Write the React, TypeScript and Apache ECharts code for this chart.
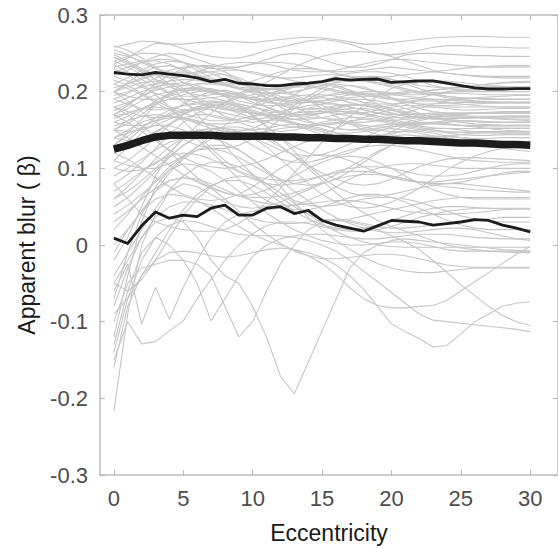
import React, { useEffect, useRef } from "react";
import * as echarts from "echarts";

// Eccentricity values (x)
const eccentricity = [0,1,2,3,4,5,6,7,8,9,10,11,12,13,14,15,16,17,18,19,20,21,22,23,24,25,26,27,28,29,30];
const xTicks = [0, 5, 10, 15, 20, 25, 30];

// Summary lines (apparent blur, beta)
const upperLine = [0.225,0.223,0.222,0.225,0.223,0.221,0.218,0.213,0.216,0.211,0.210,0.208,0.208,0.210,0.211,0.213,0.217,0.215,0.216,0.2165,0.212,0.213,0.214,0.214,0.211,0.208,0.205,0.2035,0.2035,0.204,0.204];
const meanLine = [0.125,0.130,0.136,0.141,0.143,0.143,0.143,0.143,0.142,0.142,0.142,0.142,0.141,0.141,0.140,0.140,0.139,0.139,0.138,0.138,0.137,0.136,0.136,0.135,0.134,0.133,0.133,0.132,0.131,0.131,0.130];
const lowerLine = [0.009,0.002,0.025,0.043,0.035,0.039,0.037,0.048,0.052,0.039,0.039,0.048,0.050,0.041,0.045,0.032,0.026,0.022,0.018,0.025,0.032,0.031,0.030,0.026,0.028,0.030,0.033,0.032,0.026,0.022,0.017];

// Individual observers (values in thousandths of beta)
const bandLines = [
  [258,262,266,265,262,262,264,265,266,265,264,266,268,270,271,270,268,265,262,262,264,266,268,270,271,272,272,272,271,271,271],
  [236,244,255,263,262,256,250,246,244,244,248,254,258,262,266,268,266,262,256,250,248,250,254,258,260,260,259,258,258,257,257],
  [222,228,238,246,250,248,242,236,232,232,236,242,248,250,248,242,236,232,232,236,242,248,250,250,249,248,247,247,246,246,246],
  [248,240,230,222,218,220,226,232,236,238,238,236,232,228,226,226,228,232,236,240,242,242,240,238,236,234,233,232,232,232,232],
  [205,210,216,222,228,232,234,234,232,228,224,220,218,218,220,222,222,220,216,212,210,210,212,214,214,212,210,208,207,206,206],
  [195,200,206,210,214,216,215,212,208,204,200,198,198,200,204,208,210,208,204,200,198,198,200,202,204,206,208,210,212,213,214],
  [185,192,200,206,210,212,208,202,196,192,192,196,202,208,212,212,208,202,196,192,190,190,192,196,200,202,203,204,204,204,204],
  [175,184,194,202,206,208,210,210,208,204,198,192,188,186,186,188,192,196,198,198,196,194,192,190,190,191,192,193,194,195,195],
  [168,172,178,184,190,196,200,202,200,196,190,186,184,186,190,192,190,186,182,180,182,186,190,190,189,188,187,186,186,186,186],
  [160,168,178,186,190,190,186,180,176,176,180,186,190,192,188,182,176,172,172,176,180,182,182,180,178,176,176,177,178,178,178],
  [150,162,176,188,198,204,204,200,194,188,184,182,182,184,186,186,184,180,176,172,170,170,171,172,172,172,172,172,172,172,172],
  [220,214,206,198,192,190,190,192,194,194,192,188,184,180,178,178,180,182,182,180,176,172,168,166,165,165,166,167,168,168,168],
  [235,226,216,206,198,194,194,196,198,198,194,188,182,178,176,178,182,184,182,178,172,168,166,165,165,166,166,165,164,163,162],
  [245,238,228,216,206,200,196,192,188,184,180,176,172,170,170,172,174,174,172,168,164,160,158,158,160,162,162,161,160,160,160],
  [200,206,212,214,210,202,192,184,178,174,172,172,174,178,182,184,184,180,176,172,168,164,160,158,157,156,156,156,156,156,156],
  [190,184,178,176,178,182,186,188,186,182,176,170,166,164,164,166,170,172,170,166,162,158,155,153,152,152,152,152,152,152,152],
  [180,174,168,166,168,174,180,184,184,180,174,168,162,158,156,156,158,162,164,162,158,154,150,148,147,147,148,148,148,148,148],
  [165,172,178,180,178,172,166,162,162,164,168,170,168,164,160,156,152,150,152,156,158,158,154,150,146,144,143,143,144,144,144],
  [155,162,168,170,168,164,160,158,158,160,164,166,164,160,154,150,146,146,148,150,152,150,148,146,142,140,139,139,140,140,140],
  [140,150,160,166,168,166,162,156,152,150,150,152,156,158,156,152,146,142,140,142,146,148,146,142,138,136,135,135,135,135,135],
  [130,142,154,162,166,166,162,156,150,146,146,148,152,154,152,148,142,138,136,138,142,144,142,138,134,131,130,130,130,130,130],
  [255,248,238,230,226,224,224,226,228,228,226,222,218,214,212,212,214,216,218,218,216,212,208,206,205,205,206,206,206,206,206],
  [225,232,238,242,242,238,234,230,230,232,236,238,238,236,232,228,226,226,228,230,232,230,228,226,224,222,220,219,218,218,218],
  [190,198,208,218,224,226,222,216,210,206,204,204,206,208,208,206,202,198,196,196,198,200,198,196,194,192,191,190,190,190,190],
  [170,178,188,196,200,202,202,200,196,192,190,190,192,194,196,196,194,190,186,184,184,186,188,188,186,184,182,181,180,180,180],
  [120,136,152,166,176,182,184,184,180,176,172,170,170,172,174,174,172,168,164,162,162,164,166,166,164,162,161,160,160,160,160],
  [110,128,146,160,170,176,178,176,172,168,164,162,162,164,166,166,164,160,156,154,154,156,158,160,158,156,155,154,154,154,154],
  [200,194,190,190,194,200,204,204,200,194,186,180,174,170,170,172,176,178,178,176,172,168,166,166,168,170,172,173,174,174,174],
  [245,236,226,216,210,208,210,212,212,210,206,200,194,190,188,188,190,192,194,194,192,188,184,182,182,183,184,185,185,185,185],
  [210,218,228,236,240,238,232,224,216,210,206,204,204,206,210,214,216,216,214,210,206,202,200,199,199,200,200,200,200,200,200],
  [180,186,194,204,214,222,226,226,222,214,204,196,190,188,190,194,198,200,198,194,190,186,184,184,185,186,186,186,186,186,186],
  [215,208,198,188,180,176,176,180,186,192,196,198,198,196,194,194,196,198,200,200,198,196,196,197,198,198,197,196,196,196,196],
  [160,156,156,162,172,184,194,200,202,198,190,180,172,168,168,172,178,182,184,182,178,174,170,168,167,166,166,166,166,166,166],
  [140,136,138,146,158,170,178,182,182,178,172,168,166,168,172,176,178,176,172,168,166,166,168,170,170,169,168,168,168,168,168],
  [200,212,224,232,234,230,222,214,208,204,202,202,204,206,206,204,200,196,194,194,196,198,200,202,204,206,208,210,211,212,212],
  [232,236,240,240,236,228,220,214,210,210,214,220,226,230,230,228,224,220,218,218,220,222,224,226,228,230,232,233,234,234,234],
  [150,148,150,156,164,172,178,180,178,172,166,160,156,154,156,160,164,166,166,164,160,156,152,150,148,147,146,146,146,146,146],
  [125,130,138,148,158,166,170,170,166,160,154,150,148,150,154,158,160,158,154,150,148,148,150,152,152,150,148,147,146,146,146],
];

const meshLines = [
  [250,246,240,232,222,212,204,198,196,198,204,212,222,232,240,246,250,252,252,250,246,240,234,228,224,222,221,220,220,220,220],
  [130,146,164,182,198,210,218,222,222,218,210,200,190,180,172,166,162,160,160,162,166,172,178,184,188,190,191,191,190,190,190],
  [260,254,244,232,218,204,190,178,168,162,160,162,166,172,178,184,188,190,190,188,184,178,172,166,162,160,158,157,156,156,156],
  [100,96,98,106,120,138,156,172,186,196,202,204,202,196,188,178,168,158,150,144,140,138,138,140,142,144,146,147,148,148,148],
  [210,204,196,186,176,166,158,152,148,148,152,160,170,182,194,204,212,218,220,220,216,210,204,198,194,192,191,190,190,190,190],
  [170,182,196,210,222,230,234,232,226,216,204,192,180,170,162,156,152,150,150,152,156,160,164,168,170,171,172,172,172,172,172],
  [80,92,108,126,144,160,172,180,184,184,180,174,166,158,150,144,140,138,138,140,144,150,156,160,162,162,161,160,160,160,160],
  [240,246,250,250,246,238,228,218,210,204,200,198,198,200,204,208,212,214,214,212,208,204,200,196,192,190,188,187,186,186,186],
  [60,70,84,100,116,130,140,146,148,146,140,132,124,118,116,118,124,132,140,148,154,158,160,160,158,156,154,152,150,149,148],
  [200,188,174,160,148,138,130,126,126,130,138,150,164,178,190,200,206,208,206,200,192,184,178,174,172,172,172,172,172,172,172],
  [150,158,170,184,196,204,206,202,194,182,168,154,140,128,120,116,116,120,128,138,148,156,162,166,168,168,167,166,165,164,164],
  [-20,10,50,90,120,140,150,152,148,140,130,120,112,108,108,112,118,124,128,130,130,128,124,120,116,112,110,109,108,108,108],
];

const crossingLines = [
  [200,210,218,222,210,190,170,150,130,110,92,76,62,50,40,34,32,34,38,42,46,50,54,58,60,62,62,62,62,62,62],
  [80,60,40,30,24,20,18,18,20,28,40,56,74,94,114,134,152,168,182,194,204,210,212,212,210,208,206,206,206,206,206],
  [150,140,128,116,104,92,82,74,68,64,62,62,64,68,74,82,92,102,112,122,130,136,140,142,142,140,138,136,134,132,130],
  [100,110,124,140,156,170,180,186,186,180,170,156,140,122,104,88,76,68,64,64,66,70,74,78,80,80,78,76,74,72,70],
  [60,76,94,112,128,140,148,152,152,148,140,128,112,96,80,66,56,50,48,50,56,64,74,86,98,108,116,122,126,128,128],
  [20,40,62,84,102,116,124,126,122,114,104,94,86,80,78,80,86,96,108,120,130,138,142,142,140,136,132,128,126,124,122],
  [-40,-10,20,48,72,90,102,108,108,102,92,80,68,58,52,50,52,56,60,62,62,60,56,50,44,38,34,32,30,30,30],
  [230,222,210,196,180,162,144,126,110,96,86,80,78,80,84,90,96,100,102,102,100,96,92,90,90,92,96,100,104,106,106],
  [180,170,156,140,122,104,88,76,68,64,66,72,80,90,100,108,114,116,114,108,100,90,80,72,66,62,60,60,60,60,60],
  [140,146,152,156,156,150,138,122,104,86,70,58,50,46,46,50,56,62,66,66,62,56,48,40,32,26,22,20,20,20,20],
  [90,100,112,124,134,140,142,140,134,124,112,98,84,70,58,46,36,28,22,18,16,16,18,20,22,22,20,16,12,8,6],
  [50,62,78,96,114,130,142,150,154,154,150,142,130,116,100,84,68,54,42,32,24,18,12,6,0,-4,-6,-8,-9,-10,-10],
  [0,20,44,70,94,112,124,130,130,124,112,96,76,56,36,20,6,-6,-16,-24,-30,-34,-36,-36,-34,-32,-30,-30,-30,-30,-30],
  [240,232,222,210,198,186,176,168,164,164,168,176,186,196,206,214,220,224,226,226,224,220,214,208,204,202,202,203,204,204,204],
  [110,104,100,100,106,116,128,142,156,170,182,192,200,206,210,210,206,200,192,184,176,170,166,164,164,165,166,167,168,168,168],
  [170,160,148,136,124,114,106,102,100,102,106,112,120,128,136,144,152,160,166,172,176,178,180,180,180,180,180,180,180,180,180],
  [40,52,66,82,98,114,128,138,144,146,144,138,128,116,104,94,86,80,78,80,86,94,102,108,112,114,114,113,112,111,110],
  [120,112,100,88,76,66,60,58,60,66,76,88,100,110,116,118,116,110,102,94,88,84,82,82,84,86,88,90,92,94,95],
  [70,82,96,108,116,120,118,112,104,96,90,86,84,84,86,90,94,96,96,94,90,86,82,78,76,74,72,71,70,69,69],
  [30,44,60,74,84,88,86,80,72,64,58,54,52,52,54,56,58,58,56,52,48,44,42,40,40,41,42,44,46,47,47],
];

const lowLines = [
  [-217,-90,0,40,70,80,76,66,56,50,48,50,56,64,72,80,86,90,92,92,90,86,82,80,80,82,86,90,94,96,96],
  [-60,-25,-103,-55,-97,-55,-20,10,30,40,44,46,48,52,58,66,76,86,94,100,104,106,106,104,102,100,100,100,100,100,100],
  [-150,-100,-129,-126,-112,-99,-70,-45,-20,0,15,25,30,30,28,24,20,18,18,20,24,30,36,40,44,46,48,48,48,48,48],
  [-130,-60,-10,10,0,-20,-50,-99,-70,-40,-15,0,8,12,14,14,12,10,8,8,10,12,14,14,14,12,10,9,8,8,8],
  [-100,-50,-30,-25,-20,-20,-25,-40,-80,-120,-100,-60,-25,0,20,30,34,32,28,24,22,22,24,26,28,30,32,34,36,36,36],
  [-50,-20,10,30,36,30,10,-20,-40,-50,-80,-120,-171,-194,-153,-112,-71,-30,-10,0,6,8,6,4,2,0,-2,-4,-6,-7,-8],
  [-160,-80,-40,-20,-10,-8,-10,-14,-16,-14,-10,-6,-4,-6,-10,-16,-26,-40,-58,-80,-103,-113,-122,-133,-131,-116,-100,-90,-80,-76,-74],
  [-140,-70,-20,10,26,32,30,24,18,14,12,12,12,10,6,0,-8,-20,-34,-48,-62,-76,-90,-98,-100,-102,-104,-106,-108,-110,-113],
  [-80,-30,10,36,50,56,56,52,46,40,34,30,28,28,30,32,32,30,26,20,12,4,-6,-20,-36,-52,-66,-80,-92,-100,-105],
  [-10,20,44,60,66,64,58,48,36,24,14,6,0,-6,-14,-24,-38,-56,-70,-79,-82,-82,-80,-79,-72,-60,-48,-36,-24,-12,-2],
  [-70,-10,40,70,84,88,84,74,60,44,28,14,2,-8,-14,-18,-18,-16,-14,-12,-12,-14,-18,-22,-26,-28,-29,-29,-29,-29,-29],
  [-120,-40,30,76,98,106,104,96,84,70,56,42,30,20,12,6,2,0,0,2,4,4,2,-2,-6,-8,-8,-8,-8,-8,-8],
  [-50,-60,-45,-20,10,38,60,76,86,90,88,80,68,54,40,28,18,10,4,0,-2,-3,-3,-3,-3,-3,-3,-3,-3,-3,-3],
  [-90,-70,-40,-10,20,46,66,78,84,84,78,68,56,44,34,26,22,20,22,26,32,38,44,48,50,50,49,48,47,47,47],
];

const FONT = "'Liberation Sans', Arial, Helvetica, sans-serif";
const AXIS_COLOR = "#bcbcbc";
const LABEL_COLOR = "#4d4d4d";
const NAME_COLOR = "#1a1a1a";

function toPairs(values: number[], scale: number) {
  return eccentricity.map((x, i) => [x, values[i] * scale]);
}

export default function App() {
  const ref = useRef<HTMLDivElement>(null);

  useEffect(() => {
    if (!ref.current) return;
    const chart = echarts.init(ref.current, null, { renderer: "svg" });

    const grayLines = [...bandLines, ...meshLines, ...crossingLines, ...lowLines];
    const graySeries = grayLines.map((vals, idx) => ({
      type: "line",
      name: "obs" + idx,
      data: toPairs(vals, 0.001),
      symbol: "none",
      showSymbol: false,
      silent: true,
      z: 2,
      lineStyle: { color: "#c6c6c6", width: 1.1 },
    }));

    const blackSeries = [
      { data: upperLine, width: 2.8 },
      { data: lowerLine, width: 2.8 },
      { data: meanLine, width: 7.5 },
    ].map((s, idx) => ({
      type: "line",
      name: "summary" + idx,
      data: toPairs(s.data, 1),
      symbol: "none",
      showSymbol: false,
      silent: true,
      z: 5,
      lineStyle: { color: "#1c1c1c", width: s.width, join: "round", cap: "butt" },
    }));

    const axisLine = { show: true, onZero: false, lineStyle: { color: AXIS_COLOR, width: 1.5 } };
    const tickStyle = { color: AXIS_COLOR, width: 1.2 };

    chart.setOption({
      animation: false,
      backgroundColor: "#ffffff",
      grid: { left: 100, top: 15, right: -4, bottom: 71, containLabel: false },
      xAxis: [
        {
          type: "value",
          min: -1,
          max: 32,
          position: "bottom",
          axisLine,
          axisTick: { show: true, inside: true, length: 5, customValues: xTicks, lineStyle: tickStyle },
          axisLabel: { customValues: xTicks, color: LABEL_COLOR, fontSize: 22, margin: 12, fontFamily: FONT },
          splitLine: { show: false },
          name: "Eccentricity",
          nameLocation: "middle",
          nameGap: 46,
          nameTextStyle: { color: NAME_COLOR, fontSize: 23, fontFamily: FONT },
        },
        {
          type: "value",
          min: -1,
          max: 32,
          position: "top",
          axisLine,
          axisTick: { show: true, inside: true, length: 5, customValues: xTicks, lineStyle: tickStyle },
          axisLabel: { show: false },
          splitLine: { show: false },
        },
      ],
      yAxis: [
        {
          type: "value",
          min: -0.3,
          max: 0.3,
          interval: 0.1,
          position: "left",
          axisLine,
          axisTick: { show: true, inside: true, length: 5, lineStyle: tickStyle },
          axisLabel: {
            color: LABEL_COLOR,
            fontSize: 22,
            margin: 12,
            fontFamily: FONT,
            formatter: (v: number) => String(Math.round(v * 10) / 10),
          },
          splitLine: { show: false },
          name: "Apparent blur ( β)",
          nameLocation: "middle",
          nameGap: 62,
          nameTextStyle: { color: NAME_COLOR, fontSize: 23, fontFamily: FONT },
        },
        {
          type: "value",
          min: -0.3,
          max: 0.3,
          interval: 0.1,
          position: "right",
          axisLine,
          axisTick: { show: true, inside: true, length: 5, lineStyle: tickStyle },
          axisLabel: { show: false },
          splitLine: { show: false },
        },
      ],
      series: [...graySeries, ...blackSeries],
    });

    return () => chart.dispose();
  }, []);

  return (
    <div
      ref={ref}
      style={{ position: "fixed", left: 0, top: 0, width: 558, height: 549, background: "#fff" }}
    />
  );
}
